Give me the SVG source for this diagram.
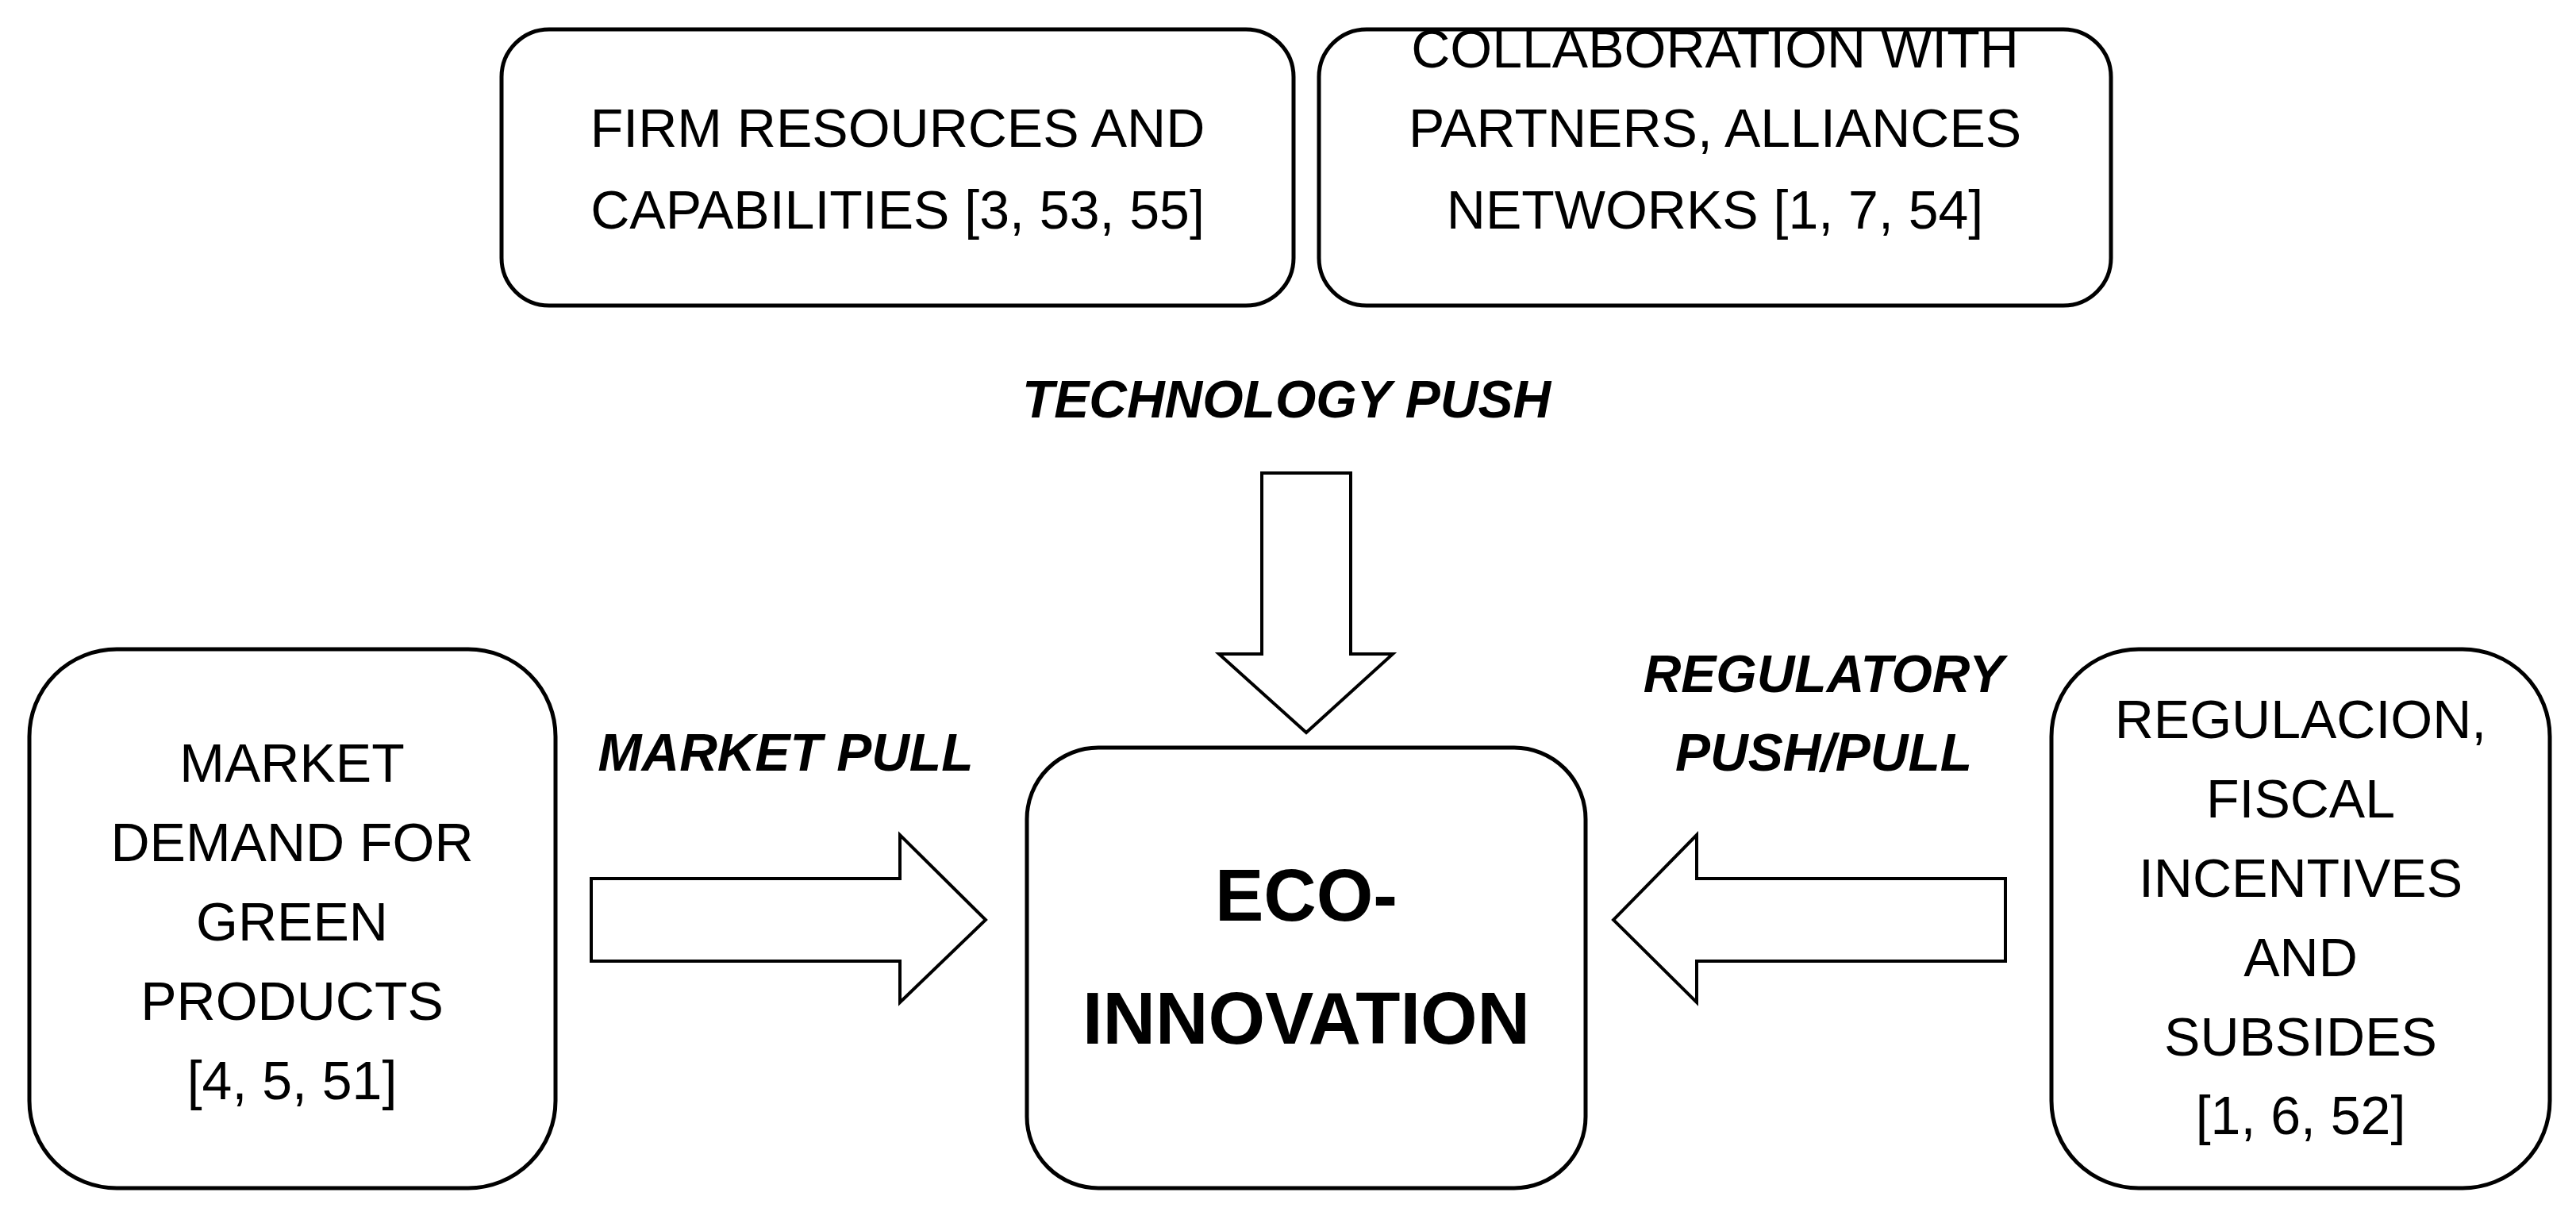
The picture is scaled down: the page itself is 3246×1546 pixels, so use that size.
<svg xmlns="http://www.w3.org/2000/svg" width="3246" height="1546" viewBox="0 0 3246 1546">
<style>
.b{fill:#fff;stroke:#000;stroke-width:5}
.t{font-family:"Liberation Sans",Arial,sans-serif;font-size:68px;text-anchor:middle;fill:#000}
.l{font-family:"Liberation Sans",Arial,sans-serif;font-size:66px;font-weight:bold;font-style:italic;text-anchor:middle;fill:#000}
.e{font-family:"Liberation Sans",Arial,sans-serif;font-size:92px;font-weight:bold;text-anchor:middle;fill:#000}
.a{fill:#fff;stroke:#000;stroke-width:4;stroke-linejoin:miter}
</style>
<rect width="3246" height="1546" fill="#fff"/>
<g id="firm"><rect class="b" x="632" y="37" width="998" height="348" rx="60"/>
<text class="t" x="1131" y="185">FIRM RESOURCES AND</text><text class="t" x="1131" y="288">CAPABILITIES [3, 53, 55]</text></g>
<g id="collab"><rect class="b" x="1662" y="37" width="998" height="348" rx="60"/>
<text class="t" x="2161" y="85">COLLABORATION WITH</text><text class="t" x="2161" y="185">PARTNERS, ALLIANCES</text><text class="t" x="2161" y="288">NETWORKS [1, 7, 54]</text></g>
<g id="market"><rect class="b" x="37" y="818" width="663" height="679" rx="110"/>
<text class="t" x="368" y="985">MARKET</text><text class="t" x="368" y="1085">DEMAND FOR</text><text class="t" x="368" y="1185">GREEN</text><text class="t" x="368" y="1285">PRODUCTS</text><text class="t" x="368" y="1385">[4, 5, 51]</text></g>
<g id="eco"><rect class="b" x="1294" y="942" width="704" height="555" rx="90"/>
<text class="e" x="1646" y="1160">ECO-</text><text class="e" x="1646" y="1315">INNOVATION</text></g>
<g id="reg"><rect class="b" x="2585" y="818" width="628" height="679" rx="110"/>
<text class="t" x="2899" y="930">REGULACION,</text><text class="t" x="2899" y="1030">FISCAL</text><text class="t" x="2899" y="1130">INCENTIVES</text><text class="t" x="2899" y="1230">AND</text><text class="t" x="2899" y="1330">SUBSIDES</text><text class="t" x="2899" y="1429">[1, 6, 52]</text></g>
<g id="connectors">
<polygon class="a" points="1590,596 1702,596 1702,824 1755,824 1646,923 1536,824 1590,824"/>
<polygon class="a" points="745,1107 1134,1107 1134,1052 1242,1159 1134,1263 1134,1211 745,1211"/>
<polygon class="a" points="2527,1107 2138,1107 2138,1052 2033,1159 2138,1263 2138,1211 2527,1211"/>
</g>
<g id="labels">
<text class="l" x="1621" y="526">TECHNOLOGY PUSH</text>
<text class="l" x="990" y="971">MARKET PULL</text>
<text class="l" x="2298" y="872">REGULATORY</text>
<text class="l" x="2298" y="971">PUSH/PULL</text>
</g>
</svg>
